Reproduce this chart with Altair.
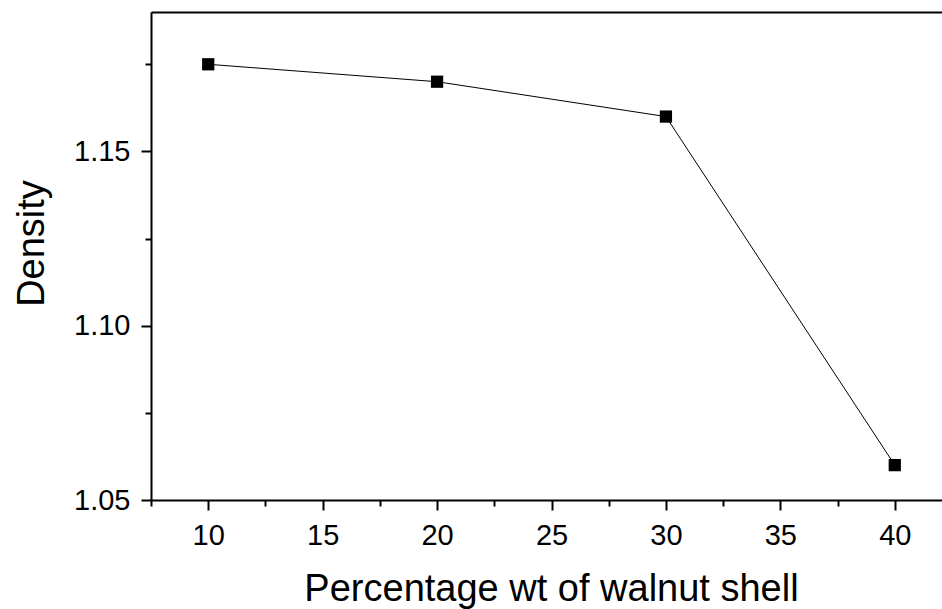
import altair as alt
import pandas as pd

# Data
pct = [10, 20, 30, 40]
density = [1.175, 1.170, 1.160, 1.060]

x_major = [10, 15, 20, 25, 30, 35, 40]
x_minor = [7.5, 12.5, 17.5, 22.5, 27.5, 32.5, 37.5]
y_major = [1.05, 1.10, 1.15]
y_minor = [1.075, 1.125, 1.175]

df = pd.DataFrame({"pct": pct, "density": density})

FONT = "Liberation Sans"
W, H = 791, 488
xscale = alt.Scale(domain=[7.5, 42.063], nice=False, zero=False)
yscale = alt.Scale(domain=[1.05, 1.19], nice=False, zero=False)

common_axis = dict(
    domainColor="black", domainWidth=2, tickColor="black", tickWidth=2,
    labelColor="black", titleColor="black", labelFont=FONT, titleFont=FONT,
    grid=False,
)

x_main = alt.Axis(
    orient="bottom",
    values=x_major, tickSize=10, labelFontSize=29, labelPadding=11,
    labelFlush=False, labelOverlap=False,
    title="Percentage wt of walnut shell", titleFontSize=38,
    titleFontWeight="normal", titleBaseline="alphabetic",
    titleX=400, titleY=100, titleAnchor="start", titleAlign="center",
    **common_axis,
)
y_main = alt.Axis(
    orient="left",
    values=y_major, format=".2f", tickSize=10, labelFontSize=29, labelPadding=11,
    labelFlush=False, labelOverlap=False,
    title="Density", titleFontSize=38, titleFontWeight="normal",
    titleAngle=270, titleBaseline="alphabetic", titleAlign="center",
    titleX=-108, titleY=231, titleAnchor="start",
    **common_axis,
)
x_min = alt.Axis(orient="bottom", values=x_minor, tickSize=6, labels=False,
                 domain=False, title=None, grid=False, tickColor="black",
                 tickWidth=2)
y_min = alt.Axis(orient="left", values=y_minor, tickSize=6, labels=False,
                 domain=False, title=None, grid=False, tickColor="black",
                 tickWidth=2)
x_top = alt.Axis(orient="top", ticks=False, labels=False, title=None,
                 domainColor="black", domainWidth=2, grid=False)

base = alt.Chart(df)

line = base.mark_line(color="black", strokeWidth=1).encode(
    x=alt.X("pct:Q", scale=xscale, axis=x_main),
    y=alt.Y("density:Q", scale=yscale, axis=y_main),
)
points = base.mark_point(shape="square", filled=True, size=150,
                         color="black", opacity=1).encode(
    x=alt.X("pct:Q", scale=xscale, axis=None),
    y=alt.Y("density:Q", scale=yscale, axis=None),
)
minor = base.mark_point(opacity=0).encode(
    x=alt.X("pct:Q", scale=xscale, axis=x_min),
    y=alt.Y("density:Q", scale=yscale, axis=y_min),
)
top = base.mark_point(opacity=0).encode(
    x=alt.X("pct:Q", scale=xscale, axis=x_top),
    y=alt.Y("density:Q", scale=yscale, axis=None),
)

chart = (
    alt.layer(minor, top, line, points)
    .resolve_axis(x="independent", y="independent")
    .properties(
        width=W, height=H,
        autosize=alt.AutoSizeParams(type="none"),
        padding={"left": 151, "top": 12, "right": 0, "bottom": 109},
        background="white",
    )
    .configure_view(stroke=None)
)

chart.save("out.html", embed_options={"renderer": "svg", "actions": False})
